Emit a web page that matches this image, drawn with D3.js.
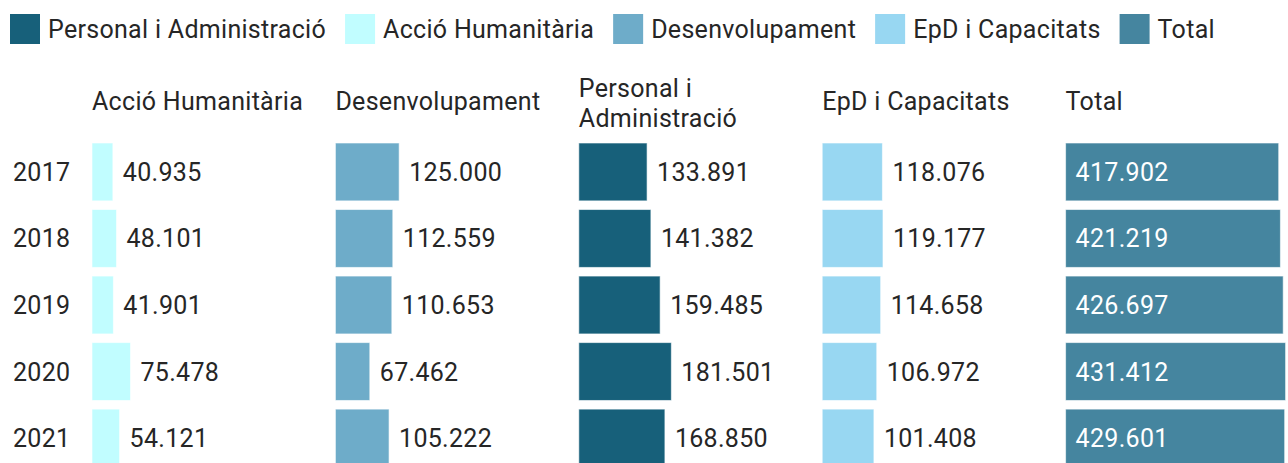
<!DOCTYPE html>
<html>
<head>
<meta charset="utf-8">
<script src="https://cdn.jsdelivr.net/npm/d3@7"></script>
<style>
  body { margin: 0; background: #fff; }
  svg text { font-family: Roboto, "Noto Sans", sans-serif; letter-spacing: 0.3px; }
</style>
</head>
<body>
<div id="chart"></div>
<script>
(function chart() {

    const WIDTH = 1288;
    const HEIGHT = 463;

    // data
    const years = ["2017", "2018", "2019", "2020", "2021"];
    const legendOrder = ["Personal i Administració", "Acció Humanitària", "Desenvolupament", "EpD i Capacitats", "Total"];
    const panelOrder = ["Acció Humanitària", "Desenvolupament", "Personal i Administració", "EpD i Capacitats", "Total"];
    const accio = [40935, 48101, 41901, 75478, 54121];
    const desenvolupament = [125000, 112559, 110653, 67462, 105222];
    const personal = [133891, 141382, 159485, 181501, 168850];
    const epd = [118076, 119177, 114658, 106972, 101408];
    const total = [417902, 421219, 426697, 431412, 429601];

    const values = {
        "Acció Humanitària": accio,
        "Desenvolupament": desenvolupament,
        "Personal i Administració": personal,
        "EpD i Capacitats": epd,
        "Total": total
    };
    const colors = {
        "Personal i Administració": "#17607a",
        "Acció Humanitària": "#c1fdff",
        "Desenvolupament": "#6eacc9",
        "EpD i Capacitats": "#98d7f2",
        "Total": "#45859f"
    };
    // header lines (wrapped like the original)
    const headers = {
        "Acció Humanitària": ["Acció Humanitària"],
        "Desenvolupament": ["Desenvolupament"],
        "Personal i Administració": ["Personal i", "Administració"],
        "EpD i Capacitats": ["EpD i Capacitats"],
        "Total": ["Total"]
    };

    const fmt = d3.formatLocale({ decimal: ",", thousands: ".", grouping: [3], currency: ["", "€"] }).format(",d");
    const textColor = "#262626";
    const fontSize = 25;

    const svg = d3.select("#chart").append("svg")
        .attr("width", WIDTH)
        .attr("height", HEIGHT);

    // legend
    const legend = svg.append("g");
    let lx = 10;
    legendOrder.forEach(name => {
        const g = legend.append("g").attr("transform", `translate(${lx},14)`);
        g.append("rect").attr("width", 30).attr("height", 30).attr("fill", colors[name]);
        const t = g.append("text")
            .attr("x", 38).attr("y", 24)
            .attr("fill", textColor)
            .style("font-size", fontSize + "px")
            .text(name);
        lx += 38 + t.node().getComputedTextLength() + 19;
    });

    // scales
    const x = d3.scaleLinear().domain([0, d3.max(total)]).range([0, 220]);
    const y = d3.scaleBand().domain(years).range([143, 467]).paddingInner(0.13).paddingOuter(0);
    const panelX = d3.scalePoint().domain(panelOrder).range([92, 92 + 4 * 243.4]);

    // year labels
    svg.append("g").selectAll("text")
        .data(years)
        .join("text")
        .attr("x", 13)
        .attr("y", d => y(d) + y.bandwidth() / 2 + 9)
        .attr("fill", textColor)
        .style("font-size", fontSize + "px")
        .text(d => d);

    // panels
    panelOrder.forEach(name => {
        const g = svg.append("g").attr("transform", `translate(${panelX(name)},0)`);
        const lines = headers[name];
        const base = lines.length === 1 ? 110 : 97;
        g.append("text")
            .attr("fill", textColor)
            .style("font-size", fontSize + "px")
            .selectAll("tspan")
            .data(lines)
            .join("tspan")
            .attr("x", 0)
            .attr("y", (d, i) => base + i * 30)
            .text(d => d);

        const rows = years.map((yr, i) => ({ year: yr, value: values[name][i] }));
        const inside = name === "Total";

        g.selectAll("rect")
            .data(rows)
            .join("rect")
            .attr("x", 0)
            .attr("y", d => y(d.year))
            .attr("width", d => x(d.value))
            .attr("height", y.bandwidth())
            .attr("fill", colors[name])
            .attr("stroke", "rgba(255,255,255,0.6)")
            .attr("stroke-width", 1);

        g.selectAll("text.val")
            .data(rows)
            .join("text")
            .attr("class", "val")
            .attr("x", d => inside ? 10 : x(d.value) + 10)
            .attr("y", d => y(d.year) + y.bandwidth() / 2 + 9)
            .attr("fill", inside ? "#fff" : textColor)
            .style("font-size", fontSize + "px")
            .text(d => fmt(d.value));
    });

})();
</script>
</body>
</html>
